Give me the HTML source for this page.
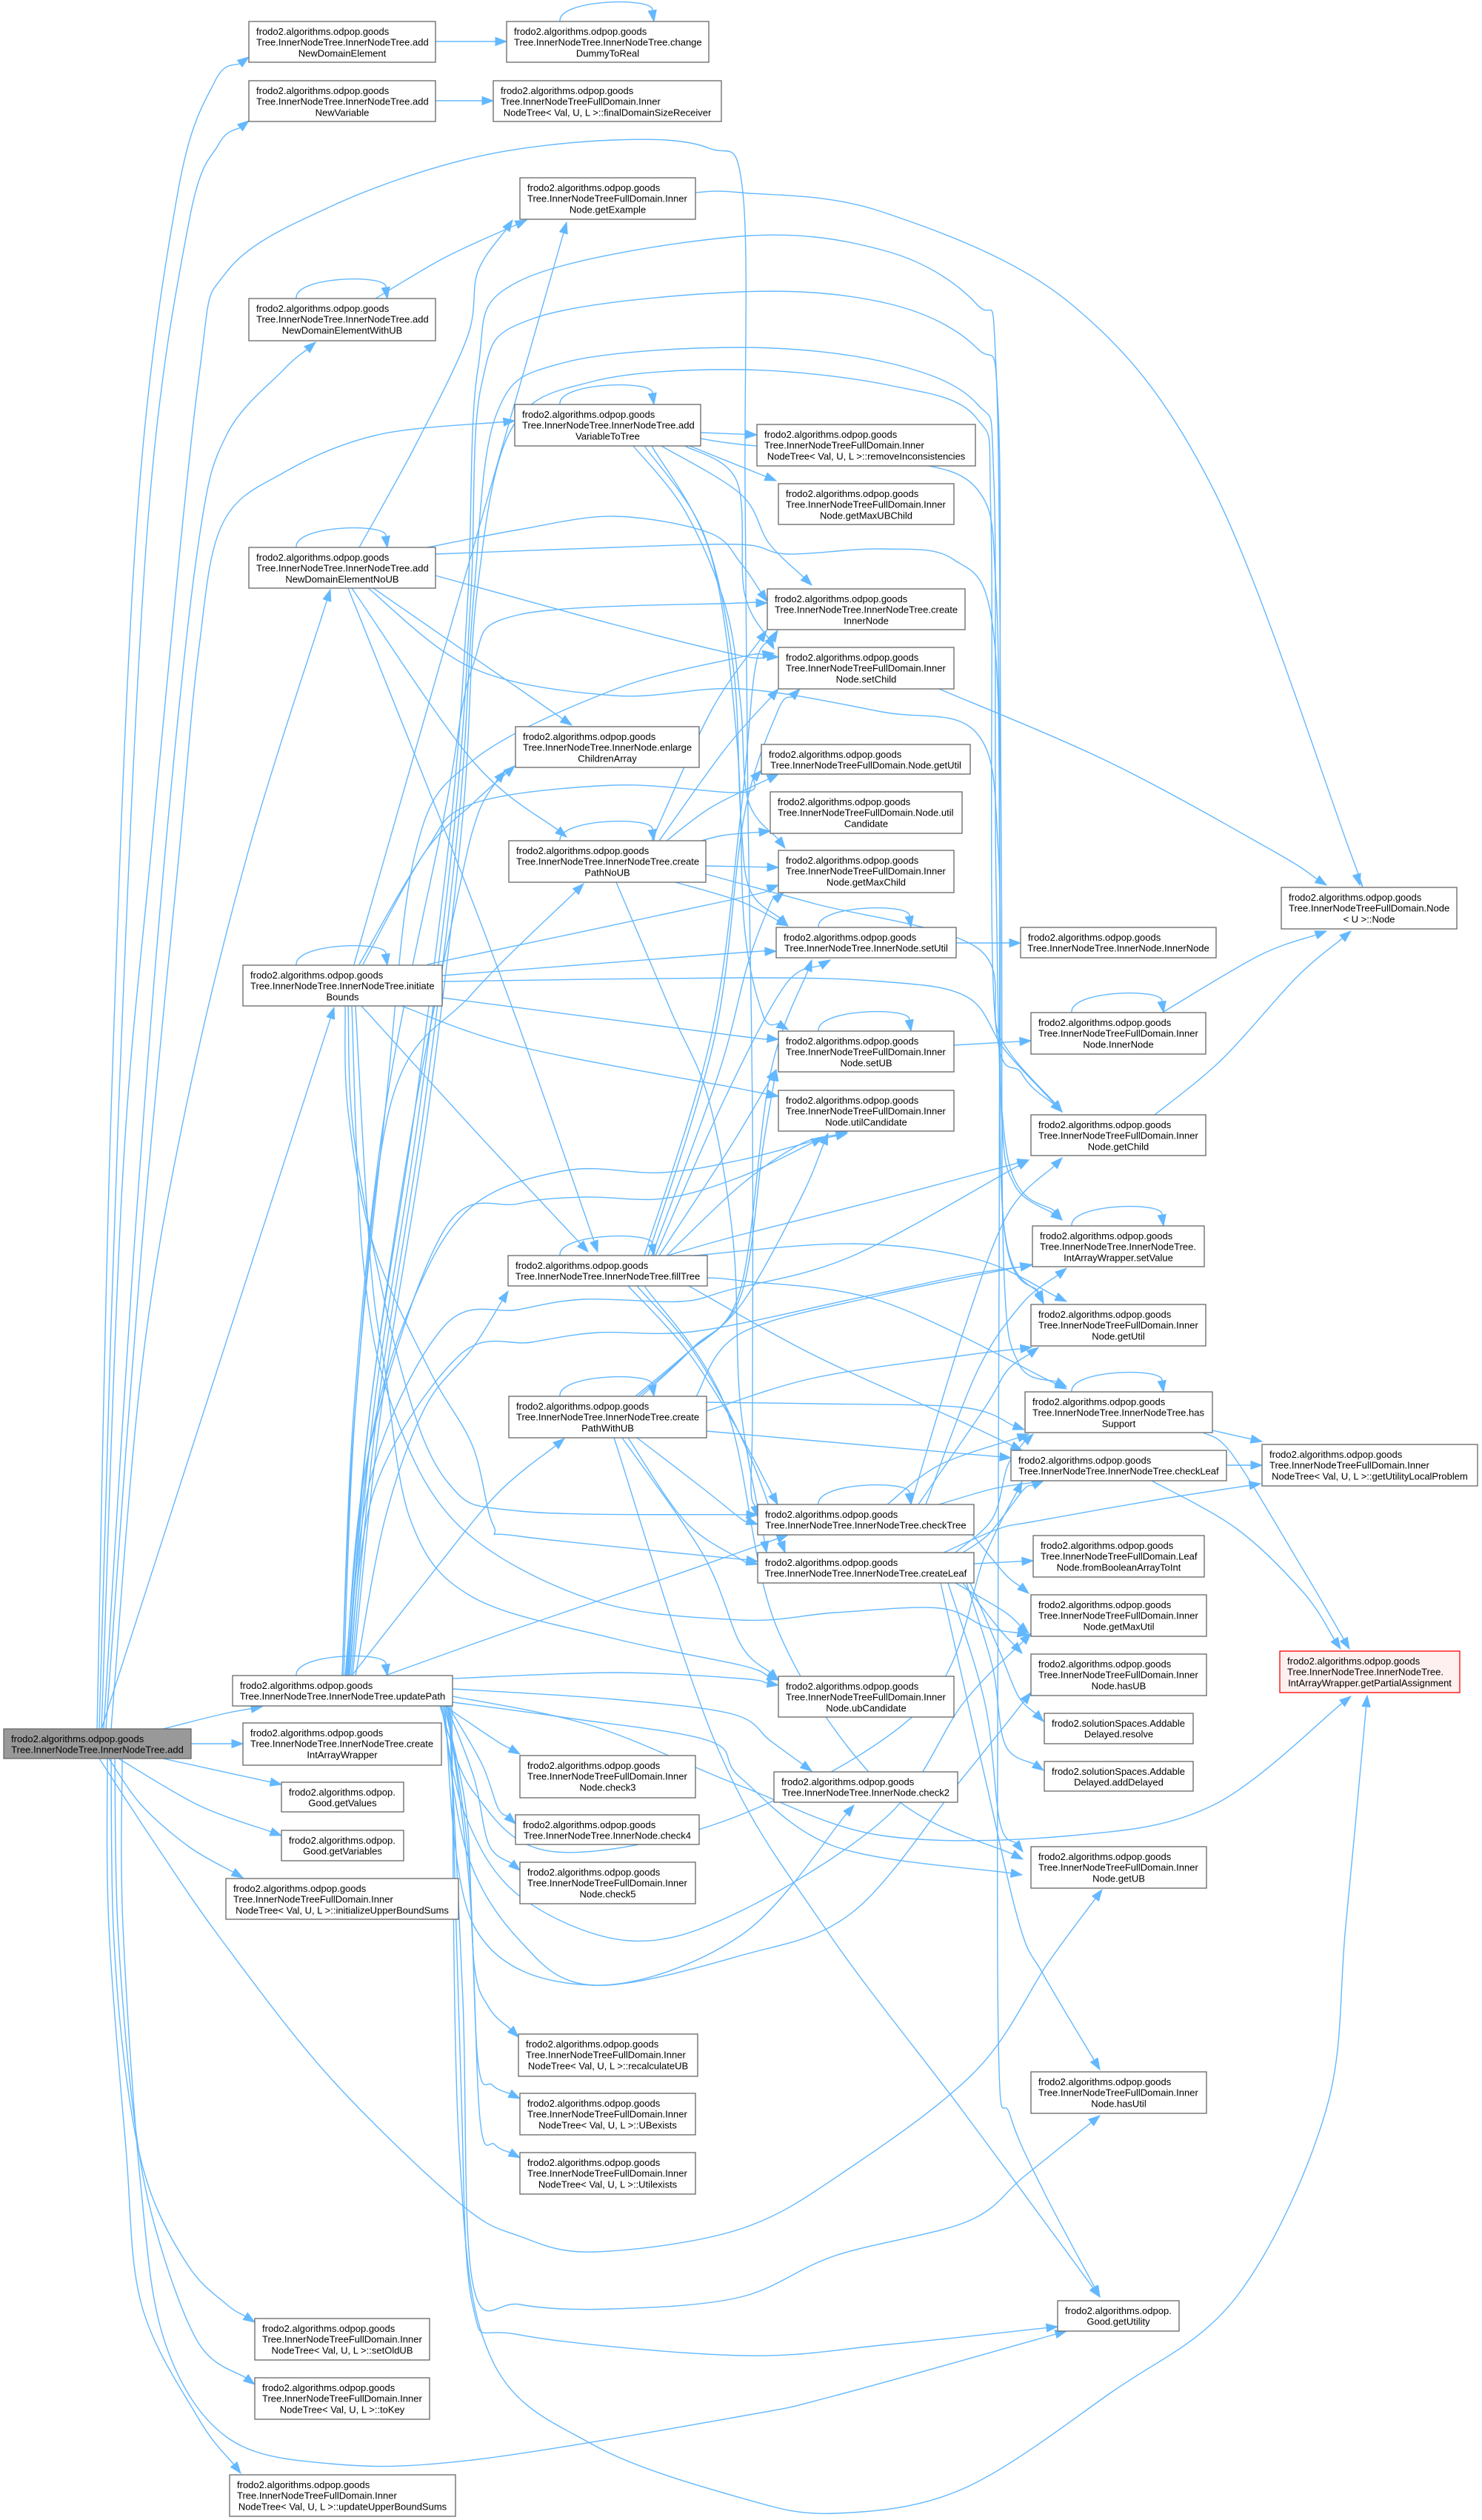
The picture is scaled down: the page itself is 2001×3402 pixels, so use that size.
<!DOCTYPE html>
<html><head><meta charset="utf-8">
<style>
html,body{margin:0;padding:0;background:#fff;}
svg{display:block;}
.n rect{fill:#fff;stroke:#666;stroke-width:1.3;}
text{font-family:"Liberation Sans",Arial,Helvetica,sans-serif;font-size:13px;fill:#000;}
.m{text-anchor:middle;}
</style></head><body>
<svg id="s" width="2001" height="3402" viewBox="0 0 2001 3402" xmlns="http://www.w3.org/2000/svg">
<g id="edges" fill="none" stroke="#63B8FF" stroke-width="1.4"></g>
<g id="arrows" fill="#63B8FF" stroke="#63B8FF" stroke-width="1"></g>
<g class="n">
<rect x="5" y="2334" width="253" height="40" style="fill:#999"/>
<text x="15" y="2351.8">frodo2.algorithms.odpop.goods</text><text class="m" x="131.5" y="2366.5">Tree.InnerNodeTree.InnerNodeTree.add</text>

<rect x="336" y="29" width="252" height="55"/>
<text x="346" y="47">frodo2.algorithms.odpop.goods</text><text x="346" y="61.7">Tree.InnerNodeTree.InnerNodeTree.add</text><text class="m" x="462" y="76.4">NewDomainElement</text>

<rect x="336" y="109" width="252" height="55"/>
<text x="346" y="127">frodo2.algorithms.odpop.goods</text><text x="346" y="141.7">Tree.InnerNodeTree.InnerNodeTree.add</text><text class="m" x="462" y="156.4">NewVariable</text>

<rect x="336" y="403" width="252" height="57"/>
<text x="346" y="421">frodo2.algorithms.odpop.goods</text><text x="346" y="435.7">Tree.InnerNodeTree.InnerNodeTree.add</text><text class="m" x="462" y="450.4">NewDomainElementWithUB</text>

<rect x="336" y="739" width="252" height="55"/>
<text x="346" y="757">frodo2.algorithms.odpop.goods</text><text x="346" y="771.7">Tree.InnerNodeTree.InnerNodeTree.add</text><text class="m" x="462" y="786.4">NewDomainElementNoUB</text>

<rect x="328" y="1303" width="269" height="55"/>
<text x="338" y="1321">frodo2.algorithms.odpop.goods</text><text x="338" y="1335.7">Tree.InnerNodeTree.InnerNodeTree.initiate</text><text class="m" x="462.5" y="1350.4">Bounds</text>

<rect x="314" y="2262" width="297" height="41"/>
<text x="324" y="2279.8">frodo2.algorithms.odpop.goods</text><text class="m" x="462.5" y="2294.5">Tree.InnerNodeTree.InnerNodeTree.updatePath</text>

<rect x="328" y="2326" width="268" height="57"/>
<text x="338" y="2344">frodo2.algorithms.odpop.goods</text><text x="338" y="2358.7">Tree.InnerNodeTree.InnerNodeTree.create</text><text class="m" x="462" y="2373.4">IntArrayWrapper</text>

<rect x="380" y="2406" width="165" height="40"/>
<text x="390" y="2423.8">frodo2.algorithms.odpop.</text><text class="m" x="462.5" y="2438.5">Good.getValues</text>

<rect x="380" y="2471" width="165" height="41"/>
<text x="390" y="2488.8">frodo2.algorithms.odpop.</text><text class="m" x="462.5" y="2503.5">Good.getVariables</text>

<rect x="305" y="2536" width="314" height="55"/>
<text x="315" y="2554">frodo2.algorithms.odpop.goods</text><text x="315" y="2568.7">Tree.InnerNodeTreeFullDomain.Inner</text><text class="m" x="462" y="2583.4">NodeTree&lt; Val, U, L &gt;::initializeUpperBoundSums</text>

<rect x="344" y="3130" width="236" height="56"/>
<text x="354" y="3148">frodo2.algorithms.odpop.goods</text><text x="354" y="3162.7">Tree.InnerNodeTreeFullDomain.Inner</text><text class="m" x="462" y="3177.4">NodeTree&lt; Val, U, L &gt;::setOldUB</text>

<rect x="344" y="3210" width="236" height="56"/>
<text x="354" y="3228">frodo2.algorithms.odpop.goods</text><text x="354" y="3242.7">Tree.InnerNodeTreeFullDomain.Inner</text><text class="m" x="462" y="3257.4">NodeTree&lt; Val, U, L &gt;::toKey</text>

<rect x="310" y="3341" width="305" height="56"/>
<text x="320" y="3359">frodo2.algorithms.odpop.goods</text><text x="320" y="3373.7">Tree.InnerNodeTreeFullDomain.Inner</text><text class="m" x="462.5" y="3388.4">NodeTree&lt; Val, U, L &gt;::updateUpperBoundSums</text>

<rect x="684" y="29" width="273" height="55"/>
<text x="694" y="47">frodo2.algorithms.odpop.goods</text><text x="694" y="61.7">Tree.InnerNodeTree.InnerNodeTree.change</text><text class="m" x="820.5" y="76.4">DummyToReal</text>

<rect x="666" y="109" width="308" height="55"/>
<text x="676" y="127">frodo2.algorithms.odpop.goods</text><text x="676" y="141.7">Tree.InnerNodeTreeFullDomain.Inner</text><text class="m" x="820" y="156.4">NodeTree&lt; Val, U, L &gt;::finalDomainSizeReceiver</text>

<rect x="702" y="240" width="237" height="56"/>
<text x="712" y="258">frodo2.algorithms.odpop.goods</text><text x="712" y="272.7">Tree.InnerNodeTreeFullDomain.Inner</text><text class="m" x="820.5" y="287.4">Node.getExample</text>

<rect x="695" y="546" width="251" height="56"/>
<text x="705" y="564">frodo2.algorithms.odpop.goods</text><text x="705" y="578.7">Tree.InnerNodeTree.InnerNodeTree.add</text><text class="m" x="820.5" y="593.4">VariableToTree</text>

<rect x="696" y="981" width="248" height="55"/>
<text x="706" y="999">frodo2.algorithms.odpop.goods</text><text x="706" y="1013.7">Tree.InnerNodeTree.InnerNode.enlarge</text><text class="m" x="820" y="1028.4">ChildrenArray</text>

<rect x="687" y="1135" width="266" height="56"/>
<text x="697" y="1153">frodo2.algorithms.odpop.goods</text><text x="697" y="1167.7">Tree.InnerNodeTree.InnerNodeTree.create</text><text class="m" x="820" y="1182.4">PathNoUB</text>

<rect x="686" y="1695" width="269" height="41"/>
<text x="696" y="1712.8">frodo2.algorithms.odpop.goods</text><text class="m" x="820.5" y="1727.5">Tree.InnerNodeTree.InnerNodeTree.fillTree</text>

<rect x="687" y="1885" width="267" height="56"/>
<text x="697" y="1903">frodo2.algorithms.odpop.goods</text><text x="697" y="1917.7">Tree.InnerNodeTree.InnerNodeTree.create</text><text class="m" x="820.5" y="1932.4">PathWithUB</text>

<rect x="702" y="2370" width="237" height="57"/>
<text x="712" y="2388">frodo2.algorithms.odpop.goods</text><text x="712" y="2402.7">Tree.InnerNodeTreeFullDomain.Inner</text><text class="m" x="820.5" y="2417.4">Node.check3</text>

<rect x="696" y="2450" width="248" height="40"/>
<text x="706" y="2467.8">frodo2.algorithms.odpop.goods</text><text class="m" x="820" y="2482.5">Tree.InnerNodeTree.InnerNode.check4</text>

<rect x="702" y="2514" width="237" height="56"/>
<text x="712" y="2532">frodo2.algorithms.odpop.goods</text><text x="712" y="2546.7">Tree.InnerNodeTreeFullDomain.Inner</text><text class="m" x="820.5" y="2561.4">Node.check5</text>

<rect x="700" y="2746" width="242" height="57"/>
<text x="710" y="2764">frodo2.algorithms.odpop.goods</text><text x="710" y="2778.7">Tree.InnerNodeTreeFullDomain.Inner</text><text class="m" x="821" y="2793.4">NodeTree&lt; Val, U, L &gt;::recalculateUB</text>

<rect x="702" y="2826" width="237" height="56"/>
<text x="712" y="2844">frodo2.algorithms.odpop.goods</text><text x="712" y="2858.7">Tree.InnerNodeTreeFullDomain.Inner</text><text class="m" x="820.5" y="2873.4">NodeTree&lt; Val, U, L &gt;::UBexists</text>

<rect x="702" y="2906" width="237" height="56"/>
<text x="712" y="2924">frodo2.algorithms.odpop.goods</text><text x="712" y="2938.7">Tree.InnerNodeTreeFullDomain.Inner</text><text class="m" x="820.5" y="2953.4">NodeTree&lt; Val, U, L &gt;::Utilexists</text>

<rect x="1022" y="573" width="295" height="56"/>
<text x="1032" y="591">frodo2.algorithms.odpop.goods</text><text x="1032" y="605.7">Tree.InnerNodeTreeFullDomain.Inner</text><text class="m" x="1169.5" y="620.4">NodeTree&lt; Val, U, L &gt;::removeInconsistencies</text>

<rect x="1051" y="653" width="237" height="55"/>
<text x="1061" y="671">frodo2.algorithms.odpop.goods</text><text x="1061" y="685.7">Tree.InnerNodeTreeFullDomain.Inner</text><text class="m" x="1169.5" y="700.4">Node.getMaxUBChild</text>

<rect x="1036" y="795" width="267" height="55"/>
<text x="1046" y="813">frodo2.algorithms.odpop.goods</text><text x="1046" y="827.7">Tree.InnerNodeTree.InnerNodeTree.create</text><text class="m" x="1169.5" y="842.4">InnerNode</text>

<rect x="1051" y="874" width="237" height="56"/>
<text x="1061" y="892">frodo2.algorithms.odpop.goods</text><text x="1061" y="906.7">Tree.InnerNodeTreeFullDomain.Inner</text><text class="m" x="1169.5" y="921.4">Node.setChild</text>

<rect x="1028" y="1005" width="282" height="40"/>
<text x="1038" y="1022.8">frodo2.algorithms.odpop.goods</text><text class="m" x="1169" y="1037.5">Tree.InnerNodeTreeFullDomain.Node.getUtil</text>

<rect x="1040" y="1069" width="259" height="56"/>
<text x="1050" y="1087">frodo2.algorithms.odpop.goods</text><text x="1050" y="1101.7">Tree.InnerNodeTreeFullDomain.Node.util</text><text class="m" x="1169.5" y="1116.4">Candidate</text>

<rect x="1051" y="1148" width="237" height="57"/>
<text x="1061" y="1166">frodo2.algorithms.odpop.goods</text><text x="1061" y="1180.7">Tree.InnerNodeTreeFullDomain.Inner</text><text class="m" x="1169.5" y="1195.4">Node.getMaxChild</text>

<rect x="1048" y="1252" width="243" height="41"/>
<text x="1058" y="1269.8">frodo2.algorithms.odpop.goods</text><text class="m" x="1169.5" y="1284.5">Tree.InnerNodeTree.InnerNode.setUtil</text>

<rect x="1051" y="1392" width="237" height="55"/>
<text x="1061" y="1410">frodo2.algorithms.odpop.goods</text><text x="1061" y="1424.7">Tree.InnerNodeTreeFullDomain.Inner</text><text class="m" x="1169.5" y="1439.4">Node.setUB</text>

<rect x="1051" y="1472" width="237" height="55"/>
<text x="1061" y="1490">frodo2.algorithms.odpop.goods</text><text x="1061" y="1504.7">Tree.InnerNodeTreeFullDomain.Inner</text><text class="m" x="1169.5" y="1519.4">Node.utilCandidate</text>

<rect x="1023" y="2031" width="292" height="41"/>
<text x="1033" y="2048.8">frodo2.algorithms.odpop.goods</text><text class="m" x="1169" y="2063.5">Tree.InnerNodeTree.InnerNodeTree.checkTree</text>

<rect x="1023" y="2096" width="292" height="41"/>
<text x="1033" y="2113.8">frodo2.algorithms.odpop.goods</text><text class="m" x="1169" y="2128.5">Tree.InnerNodeTree.InnerNodeTree.createLeaf</text>

<rect x="1051" y="2263" width="237" height="55"/>
<text x="1061" y="2281">frodo2.algorithms.odpop.goods</text><text x="1061" y="2295.7">Tree.InnerNodeTreeFullDomain.Inner</text><text class="m" x="1169.5" y="2310.4">Node.ubCandidate</text>

<rect x="1045" y="2392" width="248" height="41"/>
<text x="1055" y="2409.8">frodo2.algorithms.odpop.goods</text><text class="m" x="1169" y="2424.5">Tree.InnerNodeTree.InnerNode.check2</text>

<rect x="1378" y="1252" width="264" height="41"/>
<text x="1388" y="1269.8">frodo2.algorithms.odpop.goods</text><text class="m" x="1510" y="1284.5">Tree.InnerNodeTree.InnerNode.InnerNode</text>

<rect x="1392" y="1367" width="236" height="56"/>
<text x="1402" y="1385">frodo2.algorithms.odpop.goods</text><text x="1402" y="1399.7">Tree.InnerNodeTreeFullDomain.Inner</text><text class="m" x="1510" y="1414.4">Node.InnerNode</text>

<rect x="1392" y="1505" width="236" height="55"/>
<text x="1402" y="1523">frodo2.algorithms.odpop.goods</text><text x="1402" y="1537.7">Tree.InnerNodeTreeFullDomain.Inner</text><text class="m" x="1510" y="1552.4">Node.getChild</text>

<rect x="1394" y="1655" width="232" height="55"/>
<text x="1404" y="1673">frodo2.algorithms.odpop.goods</text><text x="1404" y="1687.7">Tree.InnerNodeTree.InnerNodeTree.</text><text class="m" x="1510" y="1702.4">IntArrayWrapper.setValue</text>

<rect x="1392" y="1761" width="236" height="56"/>
<text x="1402" y="1779">frodo2.algorithms.odpop.goods</text><text x="1402" y="1793.7">Tree.InnerNodeTreeFullDomain.Inner</text><text class="m" x="1510" y="1808.4">Node.getUtil</text>

<rect x="1384" y="1879" width="253" height="55"/>
<text x="1394" y="1897">frodo2.algorithms.odpop.goods</text><text x="1394" y="1911.7">Tree.InnerNodeTree.InnerNodeTree.has</text><text class="m" x="1510.5" y="1926.4">Support</text>

<rect x="1365" y="1958" width="291" height="41"/>
<text x="1375" y="1975.8">frodo2.algorithms.odpop.goods</text><text class="m" x="1510.5" y="1990.5">Tree.InnerNodeTree.InnerNodeTree.checkLeaf</text>

<rect x="1395" y="2073" width="231" height="56"/>
<text x="1405" y="2091">frodo2.algorithms.odpop.goods</text><text x="1405" y="2105.7">Tree.InnerNodeTreeFullDomain.Leaf</text><text class="m" x="1510.5" y="2120.4">Node.fromBooleanArrayToInt</text>

<rect x="1392" y="2153" width="237" height="56"/>
<text x="1402" y="2171">frodo2.algorithms.odpop.goods</text><text x="1402" y="2185.7">Tree.InnerNodeTreeFullDomain.Inner</text><text class="m" x="1510.5" y="2200.4">Node.getMaxUtil</text>

<rect x="1392" y="2233" width="237" height="56"/>
<text x="1402" y="2251">frodo2.algorithms.odpop.goods</text><text x="1402" y="2265.7">Tree.InnerNodeTreeFullDomain.Inner</text><text class="m" x="1510.5" y="2280.4">Node.hasUB</text>

<rect x="1410" y="2313" width="201" height="41"/>
<text x="1420" y="2330.8">frodo2.solutionSpaces.Addable</text><text class="m" x="1510.5" y="2345.5">Delayed.resolve</text>

<rect x="1410" y="2378" width="201" height="40"/>
<text x="1420" y="2395.8">frodo2.solutionSpaces.Addable</text><text class="m" x="1510.5" y="2410.5">Delayed.addDelayed</text>

<rect x="1392" y="2493" width="237" height="56"/>
<text x="1402" y="2511">frodo2.algorithms.odpop.goods</text><text x="1402" y="2525.7">Tree.InnerNodeTreeFullDomain.Inner</text><text class="m" x="1510.5" y="2540.4">Node.getUB</text>

<rect x="1392" y="2797" width="237" height="56"/>
<text x="1402" y="2815">frodo2.algorithms.odpop.goods</text><text x="1402" y="2829.7">Tree.InnerNodeTreeFullDomain.Inner</text><text class="m" x="1510.5" y="2844.4">Node.hasUtil</text>

<rect x="1428" y="3106" width="164" height="41"/>
<text x="1438" y="3123.8">frodo2.algorithms.odpop.</text><text class="m" x="1510" y="3138.5">Good.getUtility</text>

<rect x="1730" y="1198" width="237" height="56"/>
<text x="1740" y="1216">frodo2.algorithms.odpop.goods</text><text x="1740" y="1230.7">Tree.InnerNodeTreeFullDomain.Node</text><text class="m" x="1848.5" y="1245.4">&lt; U &gt;::Node</text>

<rect x="1704" y="1950" width="291" height="56"/>
<text x="1714" y="1968">frodo2.algorithms.odpop.goods</text><text x="1714" y="1982.7">Tree.InnerNodeTreeFullDomain.Inner</text><text class="m" x="1849.5" y="1997.4">NodeTree&lt; Val, U, L &gt;::getUtilityLocalProblem</text>

<rect x="1728" y="2229" width="243" height="56" style="fill:#FFF0F0;stroke:#FF0000"/>
<text x="1738" y="2247">frodo2.algorithms.odpop.goods</text><text x="1738" y="2261.7">Tree.InnerNodeTree.InnerNodeTree.</text><text class="m" x="1849.5" y="2276.4">IntArrayWrapper.getPartialAssignment</text>
</g>
</svg>
<script>
const E=[
[[131,2334],[150,1500],[185,700],[240,260],[290,110],[336,77]],
[[134,2334],[160,1500],[200,700],[255,300],[295,195],[336,163]],
[[137,2334],[165,1600],[204,1150],[268,513],[306,367],[446,279],[638,213],[829,189],[957,200],[1003,260],[1006,660],[1010,1100],[1016,1500],[1016,1900],[1014,2010],[1023,2048]],
[[140,2334],[180,1700],[223,1150],[268,733],[306,587],[383,499],[426,462]],
[[143,2334],[190,1700],[242,1150],[268,880],[300,708],[383,638],[510,587],[695,568]],
[[150,2334],[191,1850],[250,1500],[335,1150],[446,796]],
[[137,2334],[451,1360]],
[[220,2334],[300,2314],[354,2304]],
[[258,2354],[328,2354]],
[[220,2374],[380,2409]],
[[160,2374],[268,2437],[380,2478]],
[[147,2374],[191,2437],[255,2493],[328,2535]],
[[134,2374],[210,2490],[300,2620],[446,2805],[619,2973],[702,3019],[804,3040],[1000,3009],[1147,2927],[1319,2794],[1415,2650],[1488,2551]],
[[150,2374],[153,2600],[170,2800],[200,2950],[255,3060],[306,3111],[344,3135]],
[[155,2374],[159,2600],[180,2850],[210,3009],[268,3163],[344,3219]],
[[145,2374],[147,2600],[170,2900],[191,3111],[268,3265],[325,3339]],
[[165,2374],[166,2600],[190,2950],[223,3163],[306,3290],[446,3326],[638,3321],[1000,3262],[1128,3234],[1440,3147]],
[[588,56],[684,56]],
[[588,136],[666,136]],
[[507,403],[600,348],[711,297]],
[[485,739],[561,601],[631,455],[645,367],[692,297]],
[[577,739],[701,715],[829,697],[957,719],[1000,760],[1036,812]],
[[588,777],[829,843],[1000,885],[1051,887]],
[[504,794],[772,979]],
[[475,794],[638,1027],[765,1130]],
[[470,794],[612,1150],[702,1389],[807,1690]],
[[588,748],[829,739],[1000,735],[1064,748],[1191,741],[1287,755],[1340,843],[1350,1200],[1348,2000],[1348,2753],[1364,2856],[1409,2958],[1485,3101]],
[[497,794],[638,902],[829,939],[1000,930],[1191,961],[1319,990],[1348,1150],[1352,1500],[1370,1600],[1434,1647]],
[[946,584],[1022,587]],
[[931,602],[1048,649]],
[[893,602],[1000,667],[1038,733],[1096,790]],
[[925,602],[995,650],[1005,800],[1045,876]],
[[855,602],[925,690],[980,820],[1000,950],[1010,1080],[1060,1145]],
[[870,602],[950,720],[990,900],[1000,1100],[1012,1200],[1064,1250]],
[[880,602],[960,750],[995,1000],[1005,1250],[1030,1370],[1064,1390]],
[[946,592],[1000,600],[1200,620],[1319,660],[1345,800],[1350,1200],[1355,1650],[1409,1760]],
[[939,260],[1000,260],[1191,286],[1447,411],[1638,660],[1823,1150],[1836,1195]],
[[1268,930],[1500,1030],[1721,1150],[1791,1195]],
[[1291,1273],[1378,1273]],
[[1288,1411],[1392,1405]],
[[1571,1366],[1700,1290],[1791,1257]],
[[1559,1505],[1650,1430],[1750,1320],[1824,1257]],
[[1637,1931],[1704,1946]],
[[1625,1934],[1665,1965],[1760,2120],[1822,2226]],
[[1656,1978],[1704,1978]],
[[1555,1999],[1670,2064],[1760,2150],[1810,2226]],
[[1268,2031],[1340,2010],[1409,1999]],
[[1198,2031],[1268,1978],[1389,1936]],
[[1240,2031],[1330,1900],[1360,1850],[1402,1819]],
[[1230,2031],[1300,1800],[1360,1640],[1434,1563]],
[[1250,2031],[1320,1850],[1380,1760],[1440,1712]],
[[1313,2072],[1357,2125],[1389,2151]],
[[1315,2111],[1395,2107]],
[[1274,2096],[1348,2064],[1396,2054],[1560,2025],[1702,2003]],
[[1290,2137],[1355,2175],[1389,2205]],
[[1300,2137],[1350,2200],[1380,2232]],
[[1310,2137],[1350,2230],[1375,2290],[1409,2324]],
[[1305,2137],[1340,2250],[1357,2355],[1409,2390]],
[[1280,2137],[1330,2300],[1350,2460],[1381,2500]],
[[1270,2137],[1330,2400],[1377,2600],[1409,2666],[1485,2794]],
[[1300,2096],[1332,2074],[1357,2044],[1383,2010],[1409,1999]],
[[1290,2096],[1340,2050],[1360,1980],[1380,1950],[1395,1936]],
[[954,1893],[1100,1895],[1300,1900],[1383,1930]],
[[954,1932],[1100,1945],[1365,1968]],
[[848,1941],[925,2054],[1000,2105],[1023,2112]],
[[860,1941],[950,2010],[1000,2050],[1023,2058]],
[[840,1941],[950,2100],[1000,2220],[1051,2268]],
[[829,1941],[969,2360],[1112,2600],[1300,2850],[1485,3101]],
[[858,1885],[925,1829],[1000,1762],[1080,1620],[1118,1530]],
[[862,1885],[930,1825],[1000,1750],[1030,1550],[1048,1444]],
[[866,1885],[935,1820],[1000,1740],[1040,1450],[1096,1296]],
[[940,1885],[1000,1800],[1191,1748],[1393,1707]],
[[954,1905],[1100,1860],[1300,1830],[1393,1819]],
[[870,1695],[960,1400],[1000,1100],[1020,900],[1050,851]],
[[875,1695],[965,1400],[1005,1100],[1050,960],[1080,930]],
[[880,1695],[970,1450],[1010,1300],[1040,1220],[1058,1205]],
[[885,1695],[980,1480],[1060,1330],[1121,1296]],
[[890,1695],[985,1550],[1048,1444]],
[[900,1695],[1000,1600],[1080,1545],[1144,1528]],
[[901,1695],[1000,1667],[1191,1619],[1389,1566]],
[[937,1695],[1150,1679],[1319,1700],[1440,1757]],
[[955,1725],[1000,1729],[1191,1757],[1440,1875]],
[[930,1736],[1100,1830],[1300,1920],[1380,1958]],
[[848,1736],[925,1820],[990,1920],[1050,2031]],
[[860,1736],[940,1830],[1010,1960],[1060,2096]],
[[870,1736],[980,1900],[1050,2200],[1200,2420],[1381,2510]],
[[478,1302],[765,300]],
[[485,1302],[574,1150],[638,1085],[695,1034]],
[[577,1302],[1000,1212],[1051,1195]],
[[597,1317],[1000,1286],[1048,1284]],
[[597,1325],[1000,1320],[1191,1325],[1306,1346],[1357,1418],[1434,1501]],
[[597,1347],[1000,1399],[1051,1403]],
[[542,1358],[702,1413],[1000,1470],[1051,1480]],
[[488,1358],[638,1523],[794,1690]],
[[466,1358],[470,1500],[504,1680],[580,1850],[638,1952],[666,2059],[702,2074],[1000,2105],[1023,2108]],
[[470,1358],[480,1550],[542,1850],[606,2003],[702,2040],[1023,2045]],
[[480,1358],[500,1700],[520,1850],[555,2054],[638,2156],[829,2212],[1000,2248],[1051,2268]],
[[475,1358],[490,1700],[530,1900],[620,2060],[800,2160],[1000,2187],[1128,2177],[1268,2171],[1332,2197],[1389,2207]],
[[490,1302],[574,1150],[638,1085],[829,1060],[1000,1070],[1028,1040]],
[[953,1169],[1051,1171]],
[[912,1191],[1000,1217],[1064,1250]],
[[900,1135],[960,1090],[1051,1045]],
[[930,1140],[975,1128],[1040,1122]],
[[880,1135],[960,960],[1035,851]],
[[890,1135],[980,1010],[1051,930]],
[[832,1191],[906,1365],[957,1485],[990,1676],[1000,1900],[1035,2096]],
[[953,1180],[1100,1220],[1320,1280],[1350,1400],[1434,1501]],
[[470,2262],[500,1900],[560,1500],[610,1100],[632,800],[645,500],[700,380],[1000,319],[1200,340],[1319,411],[1345,500],[1352,1150],[1355,1700],[1375,1840],[1440,1872]],
[[472,2262],[505,1900],[566,1500],[615,1100],[636,800],[650,520],[720,430],[1000,394],[1200,410],[1319,470],[1348,560],[1350,1150],[1355,1650],[1409,1758]],
[[474,2262],[510,1900],[572,1500],[620,1100],[640,800],[670,560],[760,490],[1000,469],[1200,490],[1319,545],[1342,650],[1345,1200],[1360,1560],[1434,1647]],
[[476,2262],[515,1900],[578,1500],[625,1100],[644,800],[690,580],[800,515],[1000,499],[1200,520],[1319,565],[1338,700],[1342,1350],[1380,1450],[1434,1501]],
[[466,2262],[500,1900],[560,1500],[620,1200],[645,1100],[670,1055],[682,1041]],
[[462,2262],[480,1900],[529,1485],[638,1341],[788,1193]],
[[480,2262],[520,2050],[574,1900],[638,1820],[686,1743]],
[[475,2262],[574,2136],[670,2018],[762,1942]],
[[520,2262],[702,2197],[900,2130],[1000,2095],[1064,2072]],
[[611,2266],[829,2258],[1000,2266],[1051,2275]],
[[611,2280],[829,2294],[989,2314],[1040,2350],[1096,2391]],
[[611,2298],[765,2319],[957,2350],[1000,2400],[1128,2493],[1380,2531]],
[[600,2303],[670,2350],[702,2368]],
[[605,2303],[650,2380],[672,2440],[696,2462]],
[[603,2303],[640,2400],[660,2490],[702,2525]],
[[600,2303],[630,2450],[640,2650],[660,2710],[700,2750]],
[[602,2303],[632,2500],[645,2780],[665,2815],[702,2833]],
[[604,2303],[634,2550],[648,2860],[668,2895],[702,2913]],
[[606,2303],[625,2700],[638,3081],[702,3111],[829,3117],[1000,3101],[1128,3045],[1306,2999],[1383,2938],[1485,2856]],
[[608,2303],[622,2800],[638,3111],[702,3152],[1000,3180],[1200,3165],[1428,3141]],
[[610,2303],[620,2900],[663,3183],[800,3300],[1000,3372],[1128,3393],[1300,3360],[1500,3230],[1670,3100],[1790,2850],[1817,2600],[1846,2289]],
[[611,2290],[800,2330],[1000,2411],[1191,2478],[1447,2478],[1638,2437],[1824,2290]],
[[598,2303],[630,2500],[702,2620],[800,2680],[1000,2640],[1153,2580],[1300,2400],[1392,2285]],
[[596,2303],[628,2450],[702,2560],[850,2620],[1000,2580],[1200,2450],[1300,2300],[1392,2205]],
[[594,2303],[640,2420],[750,2500],[1000,2450],[1250,2300],[1330,2100],[1380,2000]],
[[600,2303],[640,2600],[800,2680],[1000,2613],[1153,2437]],
[[462,2262],[478,1900],[520,1500],[600,1100],[638,900],[700,830],[1000,814],[1036,814]],
[[464,2262],[480,1900],[520,1500],[561,1150],[638,1027],[829,931],[1000,887],[1045,882]],
[[468,2262],[500,1950],[560,1750],[638,1628],[765,1580],[893,1583],[1000,1566],[1100,1540],[1144,1530]],
[[467,2262],[498,1960],[600,1660],[700,1625],[789,1616],[896,1618],[999,1589],[1111,1536]],
[[469,2262],[502,1990],[600,1790],[700,1768],[789,1754],[919,1757],[986,1741],[1150,1696],[1389,1566]],
[[471,2262],[506,2010],[620,1830],[718,1812],[807,1799],[941,1797],[1150,1754],[1300,1722],[1393,1708]]
];
const L=[[756,883,29],[400,523,403],[400,523,739],[756,883,546],[400,523,1303],[756,883,1135],[756,883,1695],[756,883,1885],[400,523,2262],[1105,1230,1252],[1105,1230,1392],[1447,1571,1367],[1447,1571,1655],[1447,1571,1879],[1105,1230,2031]];
const NS="http://www.w3.org/2000/svg";
const ge=document.getElementById('edges'),ga=document.getElementById('arrows');
function mk(par,tag,at){const e=document.createElementNS(NS,tag);for(const k in at)e.setAttribute(k,at[k]);par.appendChild(e);return e;}
function arrow(tip,dx,dy){const l=Math.hypot(dx,dy)||1;dx/=l;dy/=l;const bx=tip[0]-dx*15,by=tip[1]-dy*15;const px=-dy*5.5,py=dx*5.5;mk(ga,'polygon',{points:tip[0]+','+tip[1]+' '+(bx+px).toFixed(1)+','+(by+py).toFixed(1)+' '+(bx-px).toFixed(1)+','+(by-py).toFixed(1)});return [bx,by];}
function f(v){return v.toFixed(1);}
E.forEach(function(p){p=p.map(function(q){return q.slice();});const n=p.length-1;const tip=p[n];const b=arrow(tip,tip[0]-p[n-1][0],tip[1]-p[n-1][1]);p[n]=b;
let d='M'+p[0][0]+','+p[0][1];
for(let i=0;i<n;i++){const p0=p[i-1]||p[i],p1=p[i],p2=p[i+1],p3=p[i+2]||p2;
d+='C'+f(p1[0]+(p2[0]-p0[0])/6)+','+f(p1[1]+(p2[1]-p0[1])/6)+' '+f(p2[0]-(p3[0]-p1[0])/6)+','+f(p2[1]-(p3[1]-p1[1])/6)+' '+f(p2[0])+','+f(p2[1]);}
mk(ge,'path',{d:d});});
L.forEach(function(a){const x1=a[0],x2=a[1],y=a[2];const b=arrow([x2,y],0.15,1);mk(ge,'path',{d:'M'+x1+','+y+' C'+(x1-3)+','+(y-31)+' '+(x2+4)+','+(y-33)+' '+f(b[0])+','+f(b[1])});});
</script>
</body></html>
